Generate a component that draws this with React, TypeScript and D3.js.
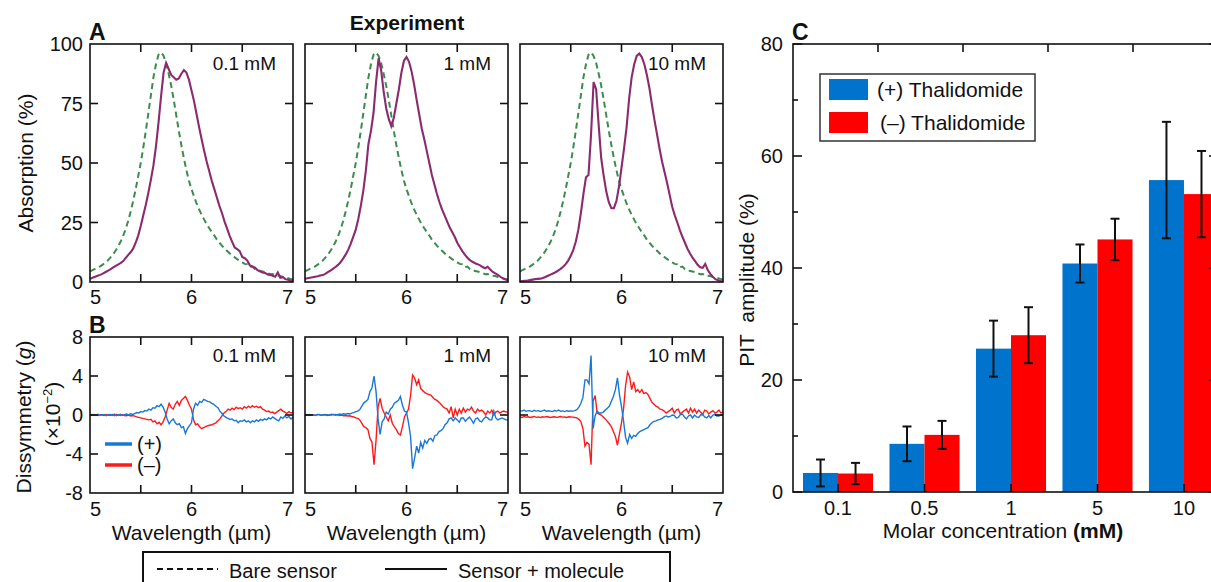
import React from 'react';
import * as d3 from 'd3';

// sampling grids (µm)
const wavelengthA = d3.range(81).map(i => +(5 + i * 0.025).toFixed(3));
const wavelengthB = d3.range(101).map(i => +(5 + i * 0.02).toFixed(2));

const concentrationLabels = ['0.1 mM', '1 mM', '10 mM'];

// A: absorption (%)
const bareSensor = [
  4.5, 5.0, 5.5, 6.0, 6.6, 7.3, 8.1, 9.0, 10.2, 11.5,
  13.0, 14.8, 16.8, 19.2, 22.0, 25.5, 29.5, 34.0, 39.0, 44.5,
  50.0, 56.5, 63.5, 71.0, 78.5, 86.0, 91.5, 95.5, 96.5, 95.0,
  92.0, 87.5, 82.5, 76.5, 70.0, 63.5, 57.5, 52.0, 47.0, 42.5,
  39.0, 36.0, 33.0, 30.5, 28.3, 26.2, 24.3, 22.6, 21.0, 19.5,
  17.8, 16.5, 15.3, 14.2, 13.1, 12.1, 11.2, 10.4, 9.6, 8.9,
  8.2, 7.6, 7.4, 6.2, 6.5, 5.4, 5.2, 4.6, 4.4, 4.1,
  3.8, 3.3, 3.4, 2.7, 2.6, 2.5, 2.1, 1.9, 1.6, 1.3,
  1.0,
];
const molecule01 = [
  1.4, 1.8, 2.2, 2.6, 3.0, 3.5, 4.1, 4.7, 5.3, 6.0,
  6.7, 7.3, 7.9, 8.7, 10.0, 11.3, 12.5, 14.0, 16.5, 19.5,
  23.5, 28.0, 32.5, 37.5, 43.0, 49.0, 57.0, 67.0, 78.0, 88.0,
  92.0, 89.5, 87.0, 86.0, 85.0, 85.5, 87.5, 89.0, 88.0, 85.0,
  80.5, 76.0, 70.5, 65.0, 60.0, 55.0, 50.5, 46.5, 42.5, 39.0,
  35.5, 32.0, 29.0, 25.5, 22.5, 19.5, 17.0, 14.5, 13.8, 13.0,
  10.5, 10.0, 9.0, 7.0, 6.5, 6.0, 5.0, 4.5, 4.0, 3.8,
  3.2, 3.0, 2.6, 2.2, 4.0, 1.8, 2.0, 1.2, 0.9, 0.6,
  0.3,
];
const molecule1 = [
  1.4, 1.6, 1.8, 2.0, 2.2, 2.4, 2.7, 2.9, 3.4, 4.1,
  4.8, 5.5, 6.3, 7.2, 8.3, 9.8, 11.5, 13.5, 16.0, 19.0,
  22.0, 26.5, 32.0, 38.5, 47.0, 58.0, 63.5, 71.0, 84.0, 94.0,
  89.0, 80.0, 73.0, 68.5, 65.5, 69.0, 75.0, 81.0, 88.0, 93.0,
  94.5, 92.5, 88.5, 83.0, 76.5, 70.5, 64.5, 60.0, 55.0, 50.0,
  45.0, 41.0, 37.0, 33.5, 30.5, 28.0, 25.5, 23.0, 21.0, 19.0,
  16.5, 14.7, 13.0, 11.5, 10.2, 9.2, 8.5, 7.9, 7.5, 7.0,
  6.3, 5.8, 6.4, 5.2, 4.2, 3.6, 3.0, 2.2, 1.5, 1.0,
  0.7,
];
const molecule10 = [
  0.3, 0.4, 0.5, 0.6, 0.8, 1.0, 1.2, 1.3, 1.4, 1.7,
  2.1, 2.6, 3.1, 3.6, 4.1, 4.8, 5.5, 6.4, 7.5, 9.0,
  11.0, 13.5, 17.0, 22.0, 29.0, 37.0, 44.0, 45.0, 62.0, 84.0,
  81.0, 66.0, 52.0, 44.5, 38.0, 33.5, 31.0, 31.0, 34.0, 40.0,
  48.0, 56.0, 65.0, 77.0, 86.0, 91.5, 95.0, 96.0, 94.5, 91.5,
  87.0, 81.5, 74.5, 68.0, 62.0, 56.0, 50.5, 46.0, 41.5, 36.5,
  31.5, 28.0, 25.0, 21.8, 19.0, 16.5, 14.0, 12.0, 10.2, 8.8,
  7.2, 6.2, 6.0, 7.6, 5.0, 3.4, 2.2, 1.2, 0.7, 0.4,
  0.3,
];

// B: dissymmetry g (x10^-2)
const plus01 = [
  0, 0.05, -0.05, 0.02, 0.08, -0.03, 0, 0.06, -0.08, 0.03,
  0.05, -0.04, 0.1, -0.06, 0.02, 0.08, -0.05, 0.04, 0.1, 0.02,
  0.12, 0.05, 0.15, 0.25, 0.2, 0.35, 0.3, 0.45, 0.4, 0.6,
  0.5, 0.75, 0.7, 0.95, 0.85, 1.1, 0.8, 0.3, -0.4, -0.9,
  -0.6, -0.4, -0.8, -1.0, -0.9, -1.3, -1.2, -1.9, -1.4, -1.1,
  -0.8, 0.6, 1.2, 1.0, 1.4, 1.3, 1.6, 1.5, 1.4, 1.35,
  1.2, 1.1, 0.9, 0.75, 0.4, 0.15, -0.1, -0.25, -0.35, -0.45,
  -0.4, -0.6, -0.55, -0.8, -0.6, -0.65, -0.5, -0.7, -0.6, -0.8,
  -0.6, -0.7, -0.5, -0.65, -0.45, -0.55, -0.4, -0.5, -0.3, -0.4,
  -0.2, -0.35, -0.5, -0.6, -0.2, -0.35, -0.1, -0.3, -0.15, -0.4,
  -0.2,
];
const minus01 = [
  0, -0.04, 0.05, -0.02, -0.06, 0.04, 0.02, -0.05, 0.06, -0.03,
  -0.02, 0.05, -0.08, 0.04, 0, -0.06, 0.05, -0.05, -0.08, 0,
  -0.1, -0.05, -0.12, -0.2, -0.25, -0.3, -0.35, -0.4, -0.45, -0.5,
  -0.45, -0.7, -0.6, -0.9, -0.75, -1.0, -0.7, -0.2, 0.5, 1.2,
  0.8, 0.6, 1.1, 1.4, 1.0, 1.5, 1.7, 1.9, 1.5, 1.0,
  0.6, -0.5, -1.0, -0.9, -1.2, -1.4, -1.3, -1.2, -1.1, -1.05,
  -1.0, -0.9, -0.8, -0.6, -0.4, -0.1, 0.2, 0.35, 0.6, 0.5,
  0.7, 0.55, 0.8, 0.65, 0.75, 0.6, 0.85, 0.7, 0.9, 0.75,
  0.95, 0.8, 0.9, 0.75, 0.85, 0.6, 0.5, 0.35, 0.4, 0.25,
  0.3, 0.15, 0.3, 0.45, 0.6, 0.4, 0.3, 0.15, 0.35, 0.2,
  0.3,
];
const plus1 = [
  0.0, 0.05, -0.05, 0.03, 0.0, -0.04, 0.06, 0.02, -0.03, 0.05,
  0.0, 0.04, -0.05, 0.08, 0.03, 0.06, 0.0, 0.1, 0.05, 0.12,
  0.08, 0.15, 0.1, 0.2, 0.25, 0.35, 0.4, 0.55, 0.9, 1.25,
  1.4, 1.6, 2.4, 2.8, 4.0, 2.4, -0.4, -2.0, -0.7, -0.4,
  0.3, 0.1, 0.6, 0.8, 1.2, 1.35, 1.5, 1.9, 1.0, 0.4,
  0.3, -0.8, -2.2, -5.5, -4.4, -3.2, -3.9, -2.8, -3.4, -2.6,
  -2.9, -2.5, -2.4, -2.7, -2.1, -2.05, -1.7, -1.6, -1.4, -1.0,
  -0.8, -0.4, -0.3, -0.6, -0.3, -0.5, -0.75, -0.3, -0.3, -0.65,
  -0.4, -0.2, -0.5, -0.85, -0.4, -0.3, -0.6, -0.7, -0.4, -0.2,
  -0.3, -0.5, -0.5, 0.4, -0.3, -0.5, -0.4, -0.3, -0.4, -0.5,
  -0.5,
];
const minus1 = [
  0.0, -0.03, 0.05, 0.0, 0.04, -0.05, 0.02, 0.06, -0.02, 0.0,
  0.05, -0.04, 0.03, 0.0, 0.06, -0.02, 0.04, -0.05, 0.0, -0.08,
  -0.05, -0.1, -0.08, -0.15, -0.2, -0.3, -0.35, -0.5, -0.85, -1.2,
  -1.3, -1.5, -2.4, -2.8, -5.1, -2.6, 0.85, 1.7, 0.7, 0.2,
  -0.2, -0.6, 0.0, -0.85, -1.2, -1.5, -1.9, -2.05, -1.2, -0.2,
  0.2, 0.6, 2.0, 4.1, 3.8, 3.1, 3.6, 2.7, 2.5, 2.3,
  2.2, 2.1, 2.05, 1.8, 1.6, 1.5, 1.3, 1.1, 0.85, 0.7,
  0.6, 0.2, 0.85, -0.3, 0.6, 0.0, 0.6, 0.2, 0.7, 0.3,
  0.6, 0.5, 0.8, 0.4, 0.2, 0.6, 0.4, 0.5, 0.3, 0.0,
  0.4, 0.2, 0.5, 0.0, 0.3, 0.4, 0.2, 0.35, 0.4, 0.3,
  0.35,
];
const plus10 = [
  0.45, 0.4, 0.5, 0.38, 0.45, 0.42, 0.35, 0.48, 0.4, 0.45,
  0.36, 0.42, 0.5, 0.38, 0.44, 0.4, 0.35, 0.45, 0.4, 0.5,
  0.38, 0.42, 0.35, 0.44, 0.38, 0.42, 0.4, 0.45, 0.55, 0.8,
  1.2, 1.8, 3.6, 3.6, 3.2, 6.1, -1.4, -0.1, 0.4, 0.2,
  0.2, 0.3, 0.5, 0.7, 0.9, 1.4, 1.9, 2.6, 3.8, 2.1,
  0.85, -0.6, -2.3, -2.9, -2.0, -2.4, -2.1, -2.2, -1.9, -1.7,
  -1.6, -1.5, -1.4, -1.3, -1.0, -0.8, -0.65, -0.6, -0.5, -0.45,
  -0.35, -0.2, -0.1, -0.2, -0.15, 0.0, -0.05, -0.3, -0.25, 0.05,
  0.1, -0.2, -0.4, -0.1, 0.0, -0.3, 0.0, -0.2, -0.25, 0.0,
  0.05, -0.2, -0.3, -0.05, -0.3, 0.0, 0.05, -0.1, -0.1, 0.0,
  0.0,
];
const minus10 = [
  -0.2, -0.25, -0.15, -0.22, -0.18, -0.25, -0.2, -0.15, -0.24, -0.2,
  -0.26, -0.18, -0.22, -0.15, -0.2, -0.25, -0.2, -0.18, -0.24, -0.2,
  -0.15, -0.22, -0.2, -0.25, -0.18, -0.2, -0.22, -0.25, -0.3, -0.45,
  -0.7, -1.4, -3.2, -2.8, -3.0, -5.1, 1.4, 2.0, 0.2, 0.1,
  0.0, -0.2, -0.4, -0.65, -0.9, -1.2, -1.7, -2.2, -3.1, -1.9,
  -0.8, 0.6, 3.0, 4.4, 3.9, 2.6, 3.4, 2.4, 2.6, 2.3,
  2.6, 2.2, 2.3, 2.1, 1.7, 1.3, 1.1, 0.9, 0.8, 0.6,
  0.55, 0.4, 0.2, 0.35, 0.5, 0.7, 0.2, 0.5, 0.6, 0.1,
  0.3, 0.45, 0.6, 0.2, 0.7, 0.3, 0.6, 0.2, 0.5, 0.3,
  0.05, 0.5, 0.4, 0.1, 0.3, 0.45, 0.2, 0.3, 0.5, 0.2,
  0.35,
];

// C: PIT amplitude (%)
const concentrations = ['0.1', '0.5', '1', '5', '10'];
const plusAmplitude = [3.4, 8.6, 25.6, 40.8, 55.7];
const plusError = [2.4, 3.1, 5.0, 3.4, 10.4];
const minusAmplitude = [3.3, 10.2, 28.0, 45.1, 53.2];
const minusError = [1.9, 2.5, 5.0, 3.7, 7.7];

const FONT = '"Liberation Sans", Arial, Helvetica, sans-serif';
const GREEN = '#3b8c4e';
const MAGENTA = '#8c2a6e';
const BLUE_LINE = '#1a78d4';
const RED_LINE = '#ff1a1a';
const BLUE_BAR = '#0073cc';
const RED_BAR = '#ff0000';
const INK = '#111';

const colLefts = [90, 305, 520];
const colWidth = 203;
const rowA = { top: 44, bottom: 282 };
const rowB = { top: 337, bottom: 493 };
const TICK = 8;

const moleculeSeries = [molecule01, molecule1, molecule10];
const dissymSeries = [[plus01, minus01], [plus1, minus1], [plus10, minus10]];

function Frame({ x, y, xTicks, yTicks }) {
  const [x0, x1] = x.range();
  const [y1, y0] = y.range();
  return (
    <g stroke={INK} strokeWidth={1.6} fill="none">
      {xTicks.map(t => (
        <g key={'x' + t}>
          <line x1={x(t)} x2={x(t)} y1={y0} y2={y0 + TICK} />
          <line x1={x(t)} x2={x(t)} y1={y1} y2={y1 - TICK} />
        </g>
      ))}
      {yTicks.map(t => (
        <g key={'y' + t}>
          <line x1={x0} x2={x0 + TICK} y1={y(t)} y2={y(t)} />
          <line x1={x1} x2={x1 - TICK} y1={y(t)} y2={y(t)} />
        </g>
      ))}
      <rect x={x0} y={y0} width={x1 - x0} height={y1 - y0} />
    </g>
  );
}

// end labels sit inside the frame, like the original
function XLabels({ x, y }) {
  return (
    <g fontSize={20}>
      <text x={x(5)} y={y} textAnchor="start">5</text>
      <text x={x(6)} y={y} textAnchor="middle">6</text>
      <text x={x(7)} y={y} textAnchor="end">7</text>
    </g>
  );
}

export default function App() {
  const yA = d3.scaleLinear().domain([0, 100]).range([rowA.bottom, rowA.top]);
  const yB = d3.scaleLinear().domain([-8, 8]).range([rowB.bottom, rowB.top]);

  const yC = d3.scaleLinear().domain([0, 80]).range([492, 44]);
  const xC = d3.scaleBand().domain(concentrations).range([803, 1219]).paddingInner(0.19);
  const topC = d3.scaleLinear().domain([0, 5]).range([793, 1218]);
  const half = xC.bandwidth() / 2;

  return (
    <svg width={1211} height={582} style={{ position: 'fixed', left: 0, top: 0, background: '#fff' }}
      fontFamily={FONT} fill={INK}>
      {/* panel titles */}
      <text x={89} y={40} fontSize={23} fontWeight="bold">A</text>
      <text x={89} y={333} fontSize={23} fontWeight="bold">B</text>
      <text x={792} y={40} fontSize={23} fontWeight="bold">C</text>
      <text x={407} y={30} fontSize={21} fontWeight="bold" textAnchor="middle">Experiment</text>

      {/* A and B columns */}
      {colLefts.map((left, k) => {
        const x = d3.scaleLinear().domain([5, 7]).range([left, left + colWidth]);
        const lineA = d3.line<number>().x((d, i) => x(wavelengthA[i])).y(d => yA(d));
        const lineB = d3.line<number>().x((d, i) => x(wavelengthB[i])).y(d => yB(d));
        return (
          <g key={k}>
            <path d={lineA(bareSensor) || ''} fill="none" stroke={GREEN} strokeWidth={2} strokeDasharray="6 4" />
            <path d={lineA(moleculeSeries[k]) || ''} fill="none" stroke={MAGENTA} strokeWidth={2.1} />
            <Frame x={x} y={yA} xTicks={[5.5, 6, 6.5]} yTicks={[25, 50, 75]} />
            <text x={left + colWidth - 17} y={rowA.top + 26} fontSize={19} textAnchor="end">{concentrationLabels[k]}</text>
            <XLabels x={x} y={304} />

            <path d={lineB(dissymSeries[k][1]) || ''} fill="none" stroke={RED_LINE} strokeWidth={1.4} />
            <path d={lineB(dissymSeries[k][0]) || ''} fill="none" stroke={BLUE_LINE} strokeWidth={1.4} />
            <Frame x={x} y={yB} xTicks={[5.5, 6, 6.5]} yTicks={[-4, 0, 4]} />
            <text x={left + colWidth - 17} y={rowB.top + 25} fontSize={19} textAnchor="end">{concentrationLabels[k]}</text>
            <XLabels x={x} y={516} />
            <text x={left + colWidth / 2} y={540} fontSize={21} textAnchor="middle">Wavelength (µm)</text>
          </g>
        );
      })}

      {/* A y axis */}
      {[0, 25, 50, 75, 100].map(t => (
        <text key={t} x={83} y={yA(t)} dy="0.36em" fontSize={20} textAnchor="end">{t}</text>
      ))}
      <text transform={`translate(25,${(rowA.top + rowA.bottom) / 2}) rotate(-90)`} dy="0.36em" fontSize={21} textAnchor="middle">Absorption (%)</text>

      {/* B y axis */}
      {[8, 4, 0, -4, -8].map(t => (
        <text key={t} x={83} y={yB(t)} dy="0.36em" fontSize={20} textAnchor="end">{t < 0 ? '-' + Math.abs(t) : t}</text>
      ))}
      <text transform="translate(23,417) rotate(-90)" dy="0.36em" fontSize={21} textAnchor="middle">
        Dissymmetry (<tspan fontStyle="italic">g</tspan>)
      </text>
      <text transform="translate(52,414) rotate(-90)" dy="0.36em" fontSize={21} textAnchor="middle">
        (×10<tspan fontSize={13} dy={-8}>−2</tspan><tspan dy={8}>)</tspan>
      </text>

      {/* B legend */}
      <line x1={105} x2={132} y1={444} y2={444} stroke={BLUE_LINE} strokeWidth={3.5} />
      <text x={137} y={451} fontSize={20}>(+)</text>
      <line x1={105} x2={132} y1={465} y2={465} stroke={RED_LINE} strokeWidth={3.5} />
      <text x={137} y={472} fontSize={20}>(–)</text>

      {/* bottom legend */}
      <rect x={143} y={552} width={527} height={40} fill="none" stroke={INK} strokeWidth={2} />
      <line x1={157} x2={218} y1={569} y2={569} stroke={INK} strokeWidth={2} strokeDasharray="6 4" />
      <text x={229} y={578} fontSize={20}>Bare sensor</text>
      <line x1={385} x2={447} y1={569} y2={569} stroke={INK} strokeWidth={2} />
      <text x={458} y={578} fontSize={20}>Sensor + molecule</text>

      {/* C bars */}
      {concentrations.map((c, i) => {
        const x0 = xC(c) as number;
        return (
          <g key={c}>
            <rect x={x0} y={yC(plusAmplitude[i])} width={half} height={yC(0) - yC(plusAmplitude[i])} fill={BLUE_BAR} />
            <rect x={x0 + half} y={yC(minusAmplitude[i])} width={half} height={yC(0) - yC(minusAmplitude[i])} fill={RED_BAR} />
          </g>
        );
      })}
      {concentrations.map((c, i) => {
        const x0 = xC(c) as number;
        const bars = [
          { cx: x0 + half / 2, v: plusAmplitude[i], e: plusError[i] },
          { cx: x0 + half * 1.5, v: minusAmplitude[i], e: minusError[i] },
        ];
        return (
          <g key={c} stroke={INK} strokeWidth={2}>
            {bars.map((b, j) => (
              <g key={j}>
                <line x1={b.cx} x2={b.cx} y1={yC(b.v - b.e)} y2={yC(b.v + b.e)} />
                <line x1={b.cx - 4.5} x2={b.cx + 4.5} y1={yC(b.v - b.e)} y2={yC(b.v - b.e)} />
                <line x1={b.cx - 4.5} x2={b.cx + 4.5} y1={yC(b.v + b.e)} y2={yC(b.v + b.e)} />
              </g>
            ))}
          </g>
        );
      })}

      {/* C axes */}
      <g stroke={INK} strokeWidth={1.6} fill="none">
        <rect x={793} y={44} width={1218 - 793} height={492 - 44} />
        {[0, 20, 40, 60, 80].map(t => (
          <g key={t}>
            <line x1={793} x2={793 + 9} y1={yC(t)} y2={yC(t)} />
            <line x1={1218} x2={1218 - 9} y1={yC(t)} y2={yC(t)} />
          </g>
        ))}
        {[10, 30, 50, 70].map(t => (
          <line key={t} x1={793} x2={798} y1={yC(t)} y2={yC(t)} />
        ))}
        {concentrations.map(c => {
          const cx = (xC(c) as number) + half;
          return <line key={c} x1={cx} x2={cx} y1={492} y2={492 - 8} />;
        })}
        {[1, 2, 3, 4].map(t => (
          <line key={t} x1={topC(t)} x2={topC(t)} y1={44} y2={44 + 8} />
        ))}
      </g>
      {[0, 20, 40, 60, 80].map(t => (
        <text key={t} x={783} y={yC(t)} dy="0.36em" fontSize={20} textAnchor="end">{t}</text>
      ))}
      {concentrations.map(c => (
        <text key={c} x={(xC(c) as number) + half} y={515} fontSize={20} textAnchor="middle">{c}</text>
      ))}
      <text x={1003} y={538} fontSize={21} textAnchor="middle">
        Molar concentration <tspan fontWeight="bold">(mM)</tspan>
      </text>
      <text transform="translate(746,280) rotate(-90)" dy="0.36em" fontSize={21} textAnchor="middle" xmlSpace="preserve">PIT  amplitude (%)</text>

      {/* C legend */}
      <rect x={820} y={74} width={215} height={67} fill="#fff" stroke="#333" strokeWidth={1.5} />
      <rect x={829} y={79} width={39} height={21} fill={BLUE_BAR} />
      <text x={877} y={97} fontSize={21}>(+) Thalidomide</text>
      <rect x={829} y={112} width={39} height={21} fill={RED_BAR} />
      <text x={880} y={130} fontSize={21}>(–) Thalidomide</text>
    </svg>
  );
}
